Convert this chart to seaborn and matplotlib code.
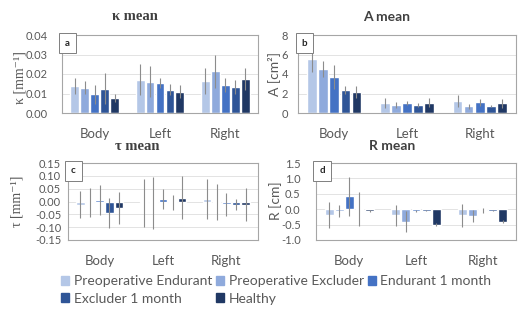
# grouped bar charts with error bars, 2x2 panels
import seaborn as sns
import matplotlib.pyplot as plt
import matplotlib.patches as mpatches
import pandas as pd

regions = ['Body', 'Left', 'Right']
groups = ['Preoperative Endurant', 'Preoperative Excluder', 'Endurant 1 month',
          'Excluder 1 month', 'Healthy']
colors = ['#b4c7e7', '#8faadc', '#4472c4', '#2f5597', '#203864']

# rows = groups, columns = regions
kappa_mean = [[0.014, 0.017, 0.0165], [0.013, 0.016, 0.0215], [0.0095, 0.0155, 0.0145],
              [0.0125, 0.012, 0.0135], [0.0075, 0.011, 0.0175]]
kappa_err = [[0.004, 0.008, 0.0065], [0.0035, 0.008, 0.0085], [0.005, 0.0025, 0.0035],
             [0.008, 0.003, 0.0035], [0.002, 0.0035, 0.0055]]

area_mean = [[5.5, 1.0, 1.2], [4.5, 0.85, 0.7], [3.7, 1.0, 1.1],
             [2.35, 0.8, 0.7], [2.15, 1.05, 1.0]]
area_err = [[1.3, 0.5, 0.6], [0.8, 0.3, 0.25], [1.2, 0.2, 0.35],
            [0.45, 0.2, 0.1], [0.65, 0.45, 0.45]]

tau_mean = [[-0.012, -0.005, 0.01], [-0.005, -0.005, -0.002], [0.006, 0.01, -0.01],
            [-0.045, -0.005, -0.012], [-0.025, 0.015, -0.012]]
tau_err = [[0.052, 0.093, 0.078], [0.056, 0.102, 0.07], [0.06, 0.04, 0.045],
           [0.057, 0.03, 0.023], [0.062, 0.085, 0.063]]

radius_mean = [[-0.18, -0.2, -0.2], [-0.05, -0.4, -0.22], [0.42, -0.05, -0.03],
               [0.01, -0.05, -0.05], [-0.05, -0.5, -0.4]]
radius_err = [[0.42, 0.33, 0.38], [0.2, 0.35, 0.2], [0.63, 0.03, 0.08],
              [0.56, 0.02, 0.02], [0.04, 0.05, 0.05]]

sns.set_style('white')
plt.rcParams['font.family'] = ['Lato', 'DejaVu Sans']
GRAY = '#595959'
SERIF = ['Liberation Serif', 'DejaVu Serif']

fig = plt.figure(figsize=(5.19, 3.10), dpi=100)
W, H = 519, 310


def px_axes(left, top, right, bottom):
    return fig.add_axes([left / W, 1 - bottom / H, (right - left) / W, (bottom - top) / H])


def panel(ax, means, errs, ylim, yticks, fmt, letter, ypad, xpad):
    df = pd.DataFrame([(g, r, means[i][j]) for i, g in enumerate(groups)
                       for j, r in enumerate(regions)], columns=['group', 'region', 'value'])
    sns.barplot(data=df, x='region', y='value', hue='group', hue_order=groups, order=regions,
                palette=colors, saturation=1, width=0.76, gap=0.12, errorbar=None,
                legend=False, ax=ax, zorder=2)
    bars = list(ax.containers)
    for i, cont in enumerate(bars):
        xs = [p.get_x() + p.get_width() / 2 for p in cont.patches]
        ax.errorbar(xs, means[i], yerr=errs[i], fmt='none', ecolor='#8c8c8c',
                    elinewidth=0.8, capsize=0, zorder=3)
    ax.set_ylim(*ylim)
    ax.set_xlim(-0.5, 2.5)
    ax.set_yticks(yticks)
    ax.set_yticklabels([fmt.format(v) for v in yticks])
    ax.grid(axis='y', color='#e3e3e3', linewidth=0.7, zorder=0)
    ax.set_axisbelow(True)
    ax.set_xlabel('')
    ax.set_ylabel('')
    for s in ax.spines.values():
        s.set_color('#a6a6a6')
        s.set_linewidth(0.8)
    ax.tick_params(axis='y', length=0, labelsize=8, labelcolor=GRAY, pad=ypad)
    ax.tick_params(axis='x', length=0, labelsize=9.5, labelcolor=GRAY, pad=xpad)
    ax.text(0.016, 0.955, letter, transform=ax.transAxes, ha='left', va='top',
            fontsize=7, fontweight='bold', color='#262626',
            bbox=dict(boxstyle='square,pad=0.6', fc='white', ec='#7f7f7f', lw=0.7))


ax_a = px_axes(62, 35, 258, 113)
panel(ax_a, kappa_mean, kappa_err, (0, 0.04), [0, 0.01, 0.02, 0.03, 0.04], '{:.2f}', 'a', 10, 11)
ax_b = px_axes(298, 35, 516, 113)
panel(ax_b, area_mean, area_err, (0, 8), [0, 2, 4, 6, 8], '{:.0f}', 'b', 7, 11)
ax_c = px_axes(68, 163, 258, 240)
panel(ax_c, tau_mean, tau_err, (-0.15, 0.15), [-0.15, -0.1, -0.05, 0, 0.05, 0.1, 0.15],
      '{:.2f}', 'c', 5, 11)
ax_d = px_axes(316, 163, 516, 240)
panel(ax_d, radius_mean, radius_err, (-1.0, 1.5), [-1.0, -0.5, 0, 0.5, 1.0, 1.5],
      '{:.1f}', 'd', 11, 11)

# panel titles
fig.text(135 / W, 1 - 17 / H, 'κ mean', ha='center', va='center', fontsize=10.5,
         fontweight='bold', color='#404040', family=SERIF)
fig.text(387 / W, 1 - 17 / H, 'A mean', ha='center', va='center', fontsize=10,
         fontweight='bold', color='#404040')
fig.text(137 / W, 1 - 146 / H, 'τ mean', ha='center', va='center', fontsize=10.5,
         fontweight='bold', color='#404040', family=SERIF)
fig.text(392 / W, 1 - 146 / H, 'R mean', ha='center', va='center', fontsize=10,
         fontweight='bold', color='#404040')

# y labels
fig.text(20 / W, 1 - 78 / H, 'κ [mm⁻¹]', rotation=90, ha='center', va='center',
         fontsize=10, color=GRAY, family=SERIF + ['DejaVu Sans'])
fig.text(274 / W, 1 - 74 / H, 'A [cm²]', rotation=90, ha='center', va='center',
         fontsize=10, color=GRAY)
fig.text(17 / W, 1 - 201 / H, 'τ [mm⁻¹]', rotation=90, ha='center', va='center',
         fontsize=10, color=GRAY, family=SERIF + ['DejaVu Sans'])
fig.text(276 / W, 1 - 201 / H, 'R [cm]', rotation=90, ha='center', va='center',
         fontsize=10, color=GRAY)

# legend filled row by row like the reference
handles = [mpatches.Patch(color=c, label=g) for c, g in zip(colors, groups)]
order = [0, 3, 1, 4, 2]
leg = fig.legend(handles=[handles[i] for i in order], loc='upper left',
                 bbox_to_anchor=(61 / W, 1 - 275 / H),
                 ncol=3, frameon=False, fontsize=10, handlelength=0.6, handleheight=0.6,
                 handletextpad=0.3, columnspacing=0.3, labelspacing=0.4, borderaxespad=0,
                 borderpad=0)
for t in leg.get_texts():
    t.set_color(GRAY)

plt.savefig('out.png', dpi=100)
